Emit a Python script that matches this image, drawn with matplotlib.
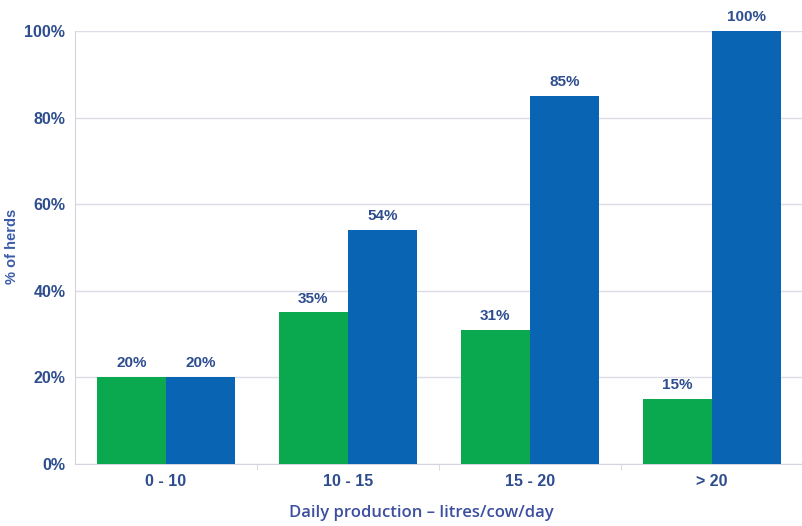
import numpy as np
import matplotlib.pyplot as plt

categories = ["0 - 10", "10 - 15", "15 - 20", "> 20"]
green_vals = [20, 35, 31, 15]
blue_vals = [20, 54, 85, 100]

GREEN = "#0aa84f"
BLUE = "#0a64b4"
TEXT = "#2e4d8f"

fig = plt.figure(figsize=(8.03, 5.26), dpi=100)
ax = fig.add_axes([75/803, 62/526, 728/803, 433/526])

x = np.arange(len(categories))
w = 0.38
b1 = ax.bar(x - w/2, green_vals, w, color=GREEN, zorder=3)
b2 = ax.bar(x + w/2, blue_vals, w, color=BLUE, zorder=3)

for bars, vals in ((b1, green_vals), (b2, blue_vals)):
    for r, v in zip(bars, vals):
        ax.text(r.get_x() + r.get_width()/2, v + 1.6, f"{v}%", ha="center", va="bottom",
                fontsize=11, fontweight="bold", color=TEXT, family="Liberation Sans")

ax.set_xlim(-0.5, len(categories) - 0.5)
ax.set_ylim(0, 100)
ax.set_yticks(np.arange(0, 101, 20))
ax.set_yticklabels([f"{t}%" for t in range(0, 101, 20)])
ax.set_xticks(x)
ax.set_xticklabels(categories)
ax.set_xticks(np.arange(0.5, len(categories) - 0.5, 1), minor=True)

ax.grid(axis="y", color="#dcdce6", linewidth=1, zorder=0)
for s in ("top", "right"):
    ax.spines[s].set_visible(False)
for s in ("left", "bottom"):
    ax.spines[s].set_color("#d4d4de")
ax.tick_params(axis="y", length=0, pad=7)
ax.tick_params(axis="x", which="major", length=0, pad=7)
ax.tick_params(axis="x", which="minor", length=4, color="#d4d4de")
for lbl in ax.get_xticklabels() + ax.get_yticklabels():
    lbl.set_fontsize(11.5)
    lbl.set_fontweight("bold")
    lbl.set_color(TEXT)
    lbl.set_family("Liberation Sans")

fig.text(12/803, 1 - 246/526, "% of herds", rotation=90, ha="center", va="center",
         fontsize=10.5, fontweight="bold", color="#3a5ba8", family="Liberation Sans")
fig.text(421/803, 1 - 513/526, "Daily production \u2013 litres/cow/day", ha="center", va="center",
         fontsize=12, fontweight="semibold", color="#3c4fa0", family="Open Sans")

fig.savefig("out.png", dpi=100)
